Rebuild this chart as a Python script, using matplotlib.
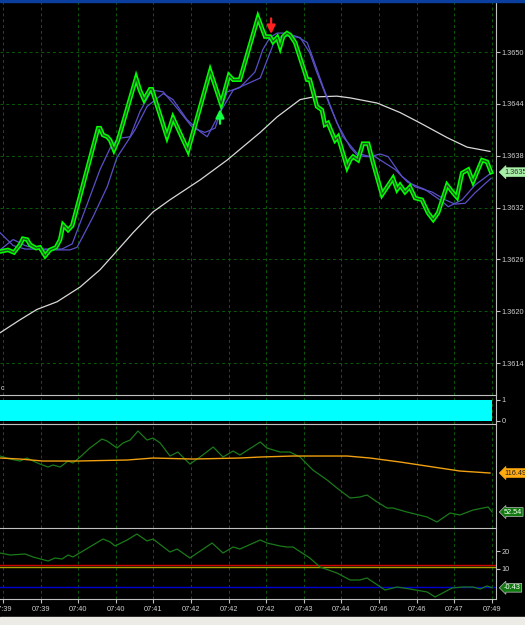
import matplotlib.pyplot as plt
from matplotlib.patches import Rectangle

# bottom axis: one label every 10 bars
tick_bars = list(range(0, 140, 10))
tick_labels = ['07:39', '07:39', '07:40', '07:40', '07:41', '07:42', '07:42',
               '07:42', '07:43', '07:44', '07:46', '07:46', '07:47', '07:49']
price_ticks = [1.3614, 1.3620, 1.3626, 1.3632, 1.3638, 1.3644, 1.3650]

# price line (turning points, bar index / price)
price_x = [-0.8, 1.3, 2.9, 4.5, 5.3, 6.4, 7.2, 8.8, 9.8, 11.2, 12.5, 14.1, 15.2, 16.0,
           17.3, 18.4, 25.3, 25.8, 26.6, 27.7, 28.5, 29.5, 30.6, 35.4, 36.4, 37.5, 39.1,
           39.6, 43.6, 45.2, 49.2, 55.1, 58.0, 60.1, 61.2, 63.0, 67.8, 69.7, 71.0, 71.8,
           72.9, 73.7, 74.5, 75.5, 76.3, 77.7, 80.9, 81.6, 83.5, 84.8, 85.6, 86.4, 88.3,
           89.1, 91.5, 92.3, 93.1, 94.4, 95.7, 97.1, 98.4, 100.8, 103.7, 104.8, 105.6,
           106.9, 108.2, 109.6, 111.4, 113.0, 114.4, 115.7, 118.1, 119.7, 120.7, 122.1,
           123.7, 125.0, 127.4, 128.7, 129.8]
price_y = [1.36269, 1.36271, 1.36268, 1.36277, 1.36284, 1.36283, 1.36277, 1.36273,
           1.36274, 1.36264, 1.36271, 1.36274, 1.36283, 1.36300, 1.36294, 1.36299,
           1.36412, 1.36412, 1.36404, 1.36402, 1.36398, 1.36387, 1.36398, 1.36470,
           1.36456, 1.36445, 1.36457, 1.36457, 1.36402, 1.36424, 1.36386, 1.36478,
           1.36440, 1.36473, 1.36468, 1.36468, 1.36540, 1.36518, 1.36518, 1.36512,
           1.36517, 1.36506, 1.36518, 1.36522, 1.36520, 1.36511, 1.36468, 1.36468,
           1.36437, 1.36433, 1.36416, 1.36418, 1.36398, 1.36402, 1.36367, 1.36375,
           1.36379, 1.36375, 1.36394, 1.36394, 1.36372, 1.36335, 1.36354, 1.36341,
           1.36346, 1.36338, 1.36344, 1.36331, 1.36329, 1.36314, 1.36306, 1.36314,
           1.36346, 1.36337, 1.36332, 1.36360, 1.36364, 1.36350, 1.36375, 1.36373,
           1.36361]

fast_x = [-0.8, 2.7, 5.9, 15.7, 18.4, 22.3, 25.8, 28.5, 30.6, 33.8, 36.4, 39.6, 42.6,
          46.3, 50.5, 53.7, 56.4, 59.6, 63.0, 67.0, 69.1, 71.0, 72.9, 75.0, 78.2, 80.9,
          82.4, 85.1, 88.8, 92.3, 94.1, 96.3, 98.9, 104.3, 107.7, 112.2, 116.8, 118.4,
          122.1, 125.5, 129.8]
fast_y = [1.36291, 1.36276, 1.36272, 1.36272, 1.36278, 1.36323, 1.36364, 1.36389,
          1.36400, 1.36402, 1.36431, 1.36456, 1.36454, 1.36435, 1.36412, 1.36407,
          1.36412, 1.36454, 1.36459, 1.36477, 1.36503, 1.36517, 1.36522, 1.36522,
          1.36518, 1.36511, 1.36493, 1.36460, 1.36418, 1.36390, 1.36381, 1.36379,
          1.36379, 1.36364, 1.36349, 1.36341, 1.36327, 1.36321, 1.36329, 1.36346,
          1.36360]

slow_x = [-0.8, 2.7, 5.9, 9.8, 17.8, 19.7, 23.9, 27.7, 30.3, 33.0, 35.1, 38.3, 42.6,
          45.2, 48.9, 52.4, 54.3, 57.7, 61.2, 68.4, 72.3, 74.5, 79.0, 81.6, 83.5, 87.0,
          90.4, 94.1, 97.6, 100.3, 102.4, 106.1, 109.6, 114.1, 117.6, 120.2, 122.9,
          125.5, 129.8]
slow_y = [1.36271, 1.36283, 1.36276, 1.36271, 1.36271, 1.36274, 1.36309, 1.36344,
          1.36378, 1.36396, 1.36410, 1.36437, 1.36452, 1.36445, 1.36422, 1.36408,
          1.36402, 1.36430, 1.36456, 1.36470, 1.36514, 1.36519, 1.36517, 1.36499,
          1.36476, 1.36437, 1.36402, 1.36383, 1.36379, 1.36382, 1.36379, 1.36356,
          1.36344, 1.36338, 1.36329, 1.36324, 1.36325, 1.36337, 1.36354]

long_x = [-0.8, 4.5, 9.0, 14.4, 20.5, 25.8, 29.3, 34.6, 39.9, 44.4, 52.4, 59.6, 68.4,
          72.9, 79.0, 82.4, 88.8, 92.3, 99.5, 105.6, 110.9, 118.1, 123.4, 129.5]
long_y = [1.36175, 1.36190, 1.36202, 1.36211, 1.36228, 1.36248, 1.36265, 1.36291,
          1.36315, 1.36329, 1.36352, 1.36375, 1.36407, 1.36425, 1.36445, 1.36448,
          1.36449, 1.36447, 1.36441, 1.36430, 1.36418, 1.36401, 1.36390, 1.36385]

# buy / sell arrows: bar, tail price, head price
buy_arrow = (57.7, 1.36417, 1.36434)
sell_arrow = (71.3, 1.36539, 1.36521)

# signal panel: every bar is 1
signal = [1] * 131

# third panel
orange_x = [-0.8, 4.5, 10.6, 19.7, 33.0, 39.9, 50.5, 63.0, 68.4, 77.1, 91.5, 97.6,
            105.6, 114.4, 121.5, 129.5]
orange_y = [141.09, 139.45, 136.17, 136.17, 137.81, 141.09, 139.45, 141.09, 142.73,
            144.37, 144.37, 141.09, 134.53, 126.33, 119.77, 116.49]
osc_x = [-0.8, 1.9, 4.5, 6.4, 8.0, 9.8, 12.0, 13.3, 15.2, 17.3, 18.6, 20.5, 23.1, 26.3,
         27.7, 30.3, 31.9, 33.8, 35.9, 38.3, 39.9, 41.8, 44.4, 46.5, 49.7, 52.4, 55.9,
         58.5, 61.2, 63.0, 68.4, 70.2, 73.7, 76.3, 79.0, 82.4, 86.2, 88.8, 92.3, 94.9,
         96.8, 99.5, 102.1, 103.7, 107.4, 112.8, 115.4, 118.9, 121.5, 125.0, 129.0, 130.1]
osc_y = [144.37, 139.45, 136.17, 141.09, 136.17, 131.25, 126.33, 129.61, 126.33, 136.17,
         132.89, 142.73, 157.49, 172.25, 168.97, 157.49, 165.69, 170.61, 185.37, 170.61,
         173.89, 165.69, 144.37, 150.93, 131.25, 142.73, 159.13, 142.73, 152.57, 146.01,
         167.33, 157.49, 150.93, 150.93, 142.73, 121.41, 105.01, 91.89, 75.49, 77.13,
         80.41, 68.93, 59.09, 59.09, 52.53, 44.33, 36.13, 50.89, 47.61, 55.81, 60.73, 52.54]

# fourth panel
adx_x = [-0.8, 1.9, 5.9, 8.0, 12.0, 13.8, 15.7, 17.3, 18.6, 26.6, 28.5, 29.8, 33.0,
         35.6, 38.3, 39.9, 44.4, 46.3, 49.7, 55.6, 58.5, 61.2, 63.0, 68.4, 70.2, 73.7,
         75.5, 77.1, 81.6, 84.3, 88.8, 92.3, 94.9, 96.8, 101.6, 104.8, 108.2, 112.8,
         114.9, 119.4, 122.3, 125.0, 126.9, 128.7, 130.1]
adx_y = [18.89, 17.78, 18.33, 16.67, 14.44, 16.11, 15.56, 17.78, 16.67, 26.67, 25.0,
         22.78, 26.11, 29.44, 25.56, 26.67, 19.44, 21.11, 16.11, 24.44, 18.89, 22.22,
         21.11, 26.11, 24.44, 22.78, 22.22, 22.22, 16.11, 11.11, 7.78, 3.89, 3.89, 5.0,
         -1.67, 0.0, -1.11, -2.78, -5.56, -0.56, 0.0, 0.0, -1.11, 0.56, -0.43]
levels = [12, 11, 0]
level_colors = ['#d00000', '#a8a000', '#0000d0']

GRID = '#0b5a0b'
AXIS = '#c0c0c0'
TXT = '#d0d0d0'
FONT = 'Liberation Sans'
FS = 5.3

fig = plt.figure(figsize=(5.25, 6.25), dpi=100, facecolor='black')
W = 496 / 525
ax1 = fig.add_axes([0, 1 - 395 / 625, W, 393 / 625])
ax2 = fig.add_axes([0, 1 - 424 / 625, W, 29 / 625], sharex=ax1)
ax3 = fig.add_axes([0, 1 - 528 / 625, W, 104 / 625], sharex=ax1)
ax4 = fig.add_axes([0, 1 - 599 / 625, W, 71 / 625], sharex=ax1)

for ax in (ax1, ax2, ax3, ax4):
    ax.set_facecolor('black')
    for s in ax.spines.values():
        s.set_visible(False)
    ax.spines['right'].set_visible(True)
    ax.spines['right'].set_color(AXIS)
    ax.yaxis.tick_right()
    ax.tick_params(axis='y', colors=AXIS, labelcolor=TXT, length=3, width=0.8,
                   labelsize=FS, pad=1)
    ax.tick_params(axis='x', bottom=False, labelbottom=False)
    ax.set_xticks(tick_bars)
    ax.grid(axis='x', color=GRID, linestyle=(0, (3, 3)), linewidth=0.7)
for ax in (ax2, ax3, ax4):
    ax.spines['top'].set_visible(True)
    ax.spines['top'].set_color(AXIS)

ax1.set_xlim(-0.8, 131.1)


def value_tag(ax, y, text, fc, tc, ec=None):
    ax.text(1.016, y, text, transform=ax.get_yaxis_transform(), fontsize=FS,
            fontfamily=FONT, color=tc, va='center', ha='left', zorder=5,
            bbox=dict(boxstyle='larrow,pad=0.12', fc=fc, ec=ec or fc, lw=0.5))


# main price panel
ax1.set_ylim(1.36103, 1.36558)
ax1.set_yticks(price_ticks)
ax1.set_yticklabels([f'{v:.4f}' for v in price_ticks], fontfamily=FONT)
ax1.grid(axis='y', color=GRID, linestyle=(0, (3, 3)), linewidth=0.7)
ax1.plot(long_x, long_y, color='#d8d8d8', lw=0.9)
ax1.plot(slow_x, slow_y, color='#5a50c8', lw=0.9)
ax1.plot(fast_x, fast_y, color='#5a50c8', lw=0.9)
ax1.plot(price_x, price_y, color='#00ff00', lw=3.2, solid_joinstyle='miter')
ax1.plot(price_x, price_y, color='#1c5a1c', lw=1.0)
for (bx, p0, p1), col in ((buy_arrow, '#10ff40'), (sell_arrow, '#ff2020')):
    ax1.annotate('', xy=(bx, p1), xytext=(bx, p0),
                 arrowprops=dict(arrowstyle='-|>,head_length=0.5,head_width=0.25',
                                 color=col, lw=1.6, shrinkA=0, shrinkB=0))
value_tag(ax1, price_y[-1], '1.3635', '#a8f0a8', '#303030')

# signal panel
ax2.bar(range(-1, 130), signal, width=1.0, align='edge', color='#00ffff', zorder=3)
ax2.set_ylim(-0.143, 1.238)
ax2.set_yticks([0, 1])
ax2.set_yticklabels(['0', '1'], fontfamily=FONT)

# third panel
ax3.set_ylim(26.3, 196.9)
ax3.set_yticks([])
ax3.plot(osc_x, osc_y, color='#1a7a1a', lw=0.9)
ax3.plot(orange_x, orange_y, color='#f0a010', lw=1.0)
value_tag(ax3, orange_y[-1], '116.49', '#ffaa10', '#202020')
value_tag(ax3, osc_y[-1], '52.54', '#107a10', 'white', '#c0c0c0')

# fourth panel
ax4.set_ylim(-6.67, 32.78)
ax4.set_yticks([10, 20])
ax4.set_yticklabels(['10', '20'], fontfamily=FONT)
for lv, c in zip(levels, level_colors):
    ax4.axhline(lv, color=c, lw=1.0)
ax4.plot(adx_x, adx_y, color='#1a7a1a', lw=0.9)
value_tag(ax4, adx_y[-1], '-0.43', '#107a10', 'white', '#c0c0c0')
ax4.spines['bottom'].set_visible(True)
ax4.spines['bottom'].set_color(AXIS)
ax4.tick_params(axis='x', bottom=True, labelbottom=True, colors=AXIS, labelcolor=TXT,
                length=3, width=0.8, labelsize=FS, pad=2)
ax4.set_xticklabels(tick_labels, fontfamily=FONT)

fig.text(0.001, 1 - 389 / 625, 'c', fontsize=FS, color=TXT, va='center', fontfamily=FONT)
fig.patches.append(Rectangle((0, 1 - 2 / 625), 1, 2 / 625, transform=fig.transFigure,
                             color='#0b3f9f', zorder=10))
fig.patches.append(Rectangle((0, 0), 1, 8 / 625, transform=fig.transFigure,
                             color='#ecebe6', zorder=10))

fig.savefig('out.png', dpi=100, facecolor='black')
